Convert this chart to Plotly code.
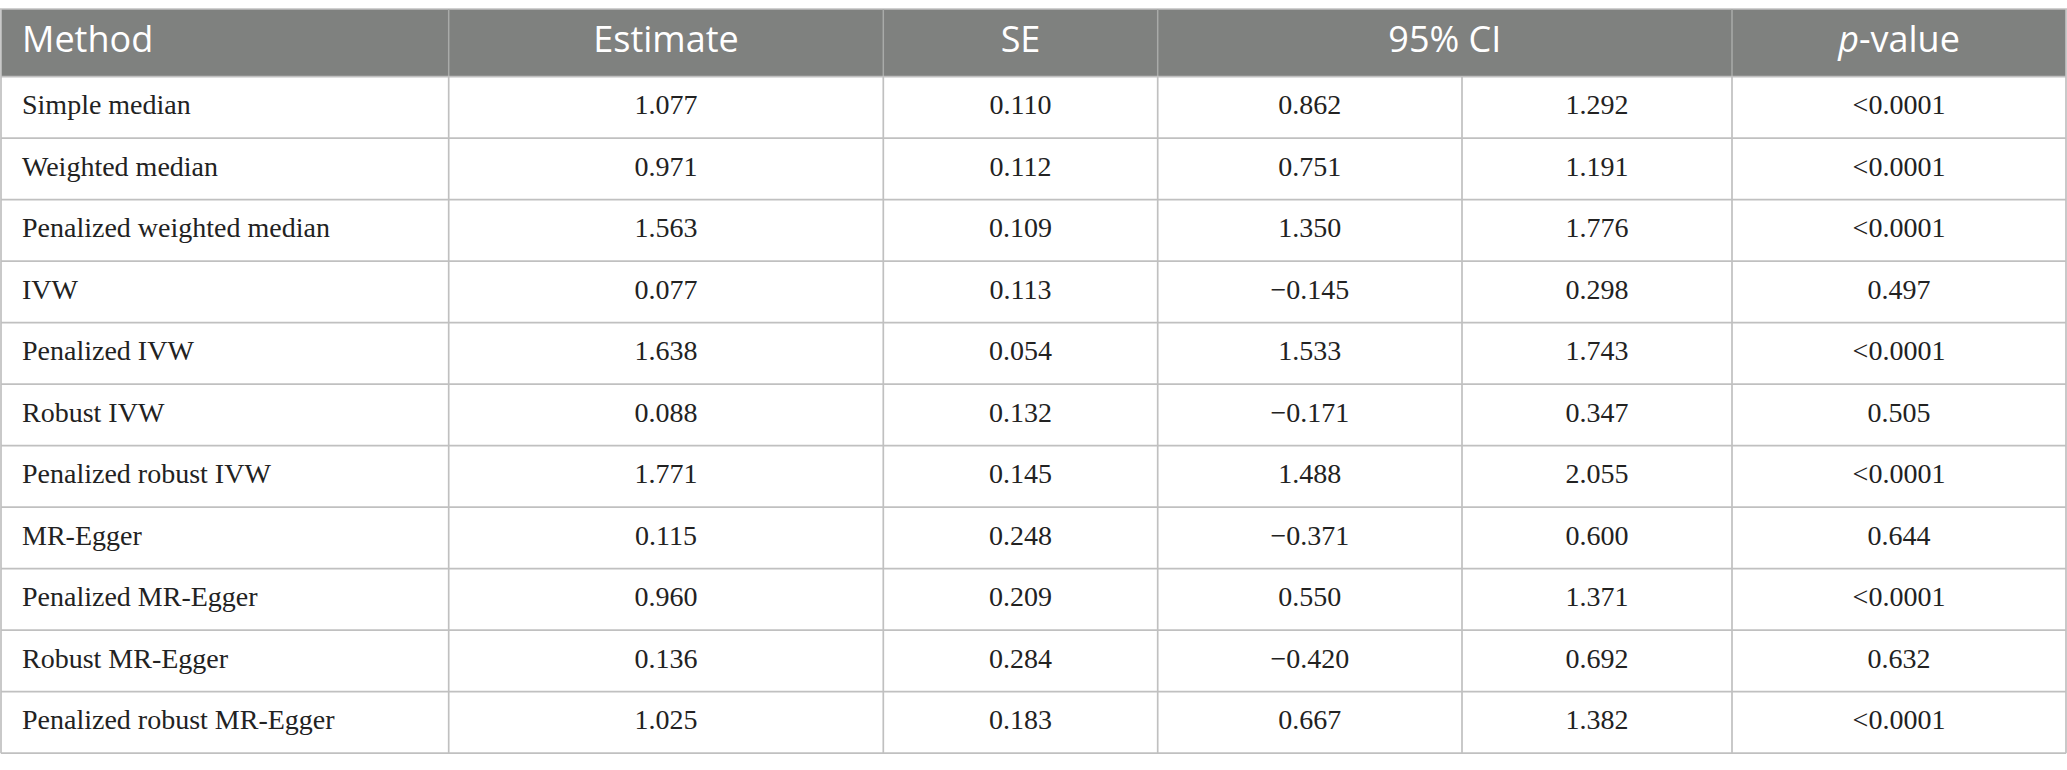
import plotly.graph_objects as go

# table values
methods = ["Simple median", "Weighted median", "Penalized weighted median", "IVW",
           "Penalized IVW", "Robust IVW", "Penalized robust IVW", "MR-Egger",
           "Penalized MR-Egger", "Robust MR-Egger", "Penalized robust MR-Egger"]
estimate = ["1.077", "0.971", "1.563", "0.077", "1.638", "0.088", "1.771", "0.115", "0.960", "0.136", "1.025"]
se = ["0.110", "0.112", "0.109", "0.113", "0.054", "0.132", "0.145", "0.248", "0.209", "0.284", "0.183"]
ci_low = ["0.862", "0.751", "1.350", "\u22120.145", "1.533", "\u22120.171", "1.488", "\u22120.371", "0.550", "\u22120.420", "0.667"]
ci_high = ["1.292", "1.191", "1.776", "0.298", "1.743", "0.347", "2.055", "0.600", "1.371", "0.692", "1.382"]
p_value = ["<0.0001", "<0.0001", "<0.0001", "0.497", "<0.0001", "0.505", "<0.0001", "0.644", "<0.0001", "0.632", "<0.0001"]

header_labels = ["Method", "Estimate", "SE", "95% CI", "<i>p</i>-value"]

# layout in pixels (axes are set up 1 unit = 1 px)
W, H = 2067, 770
col_edges = [1, 448.7, 883.3, 1157.7, 1462, 1732, 2066]
head_edges = [1, 448.7, 883.3, 1157.7, 1732, 2066]   # CI header spans two columns
top = 9
head_bot = 76.7
row_h = 61.5
pad_left = 22

grey = "#7f817f"
head_line = "#a9aba9"
line_col = "#c0c0c0"
body_font = dict(family="Liberation Serif", size=28, color="#222222")
head_font = dict(family="Open Sans", size=36, color="white")

n = len(methods)
row_y = [head_bot + (i + 0.5) * row_h for i in range(n)]
bottom = head_bot + n * row_h

fig = go.Figure()

# header text
head_x = [pad_left] + [(head_edges[i] + head_edges[i + 1]) / 2 for i in range(1, len(head_edges) - 1)]
fig.add_trace(go.Scatter(
    x=head_x[:1], y=[(top + head_bot) / 2], text=header_labels[:1],
    mode="text", textposition="middle right", textfont=head_font,
    hoverinfo="skip", cliponaxis=False,
))
fig.add_trace(go.Scatter(
    x=head_x[1:], y=[(top + head_bot) / 2] * (len(head_x) - 1), text=header_labels[1:],
    mode="text", textposition="middle center", textfont=head_font,
    hoverinfo="skip", cliponaxis=False,
))

# body text
fig.add_trace(go.Scatter(
    x=[pad_left] * n, y=row_y, text=methods,
    mode="text", textposition="middle right", textfont=body_font,
    hoverinfo="skip", cliponaxis=False,
))
for j, col in enumerate([estimate, se, ci_low, ci_high, p_value], start=1):
    cx = (col_edges[j] + col_edges[j + 1]) / 2
    fig.add_trace(go.Scatter(
        x=[cx] * n, y=row_y, text=col,
        mode="text", textposition="middle center", textfont=body_font,
        hoverinfo="skip", cliponaxis=False,
    ))

# header fill and grid lines
shapes = [dict(type="rect", x0=col_edges[0], x1=col_edges[-1], y0=top, y1=head_bot,
               fillcolor=grey, line_width=0, layer="below")]
shapes.append(dict(type="line", x0=0, x1=W, y0=top, y1=top,
                   line=dict(color=line_col, width=1.5), layer="below"))
for xe in head_edges[1:-1]:
    shapes.append(dict(type="line", x0=xe, x1=xe, y0=top, y1=head_bot,
                       line=dict(color=head_line, width=1.5), layer="below"))
for xe in col_edges:
    outer = xe in (col_edges[0], col_edges[-1])
    shapes.append(dict(type="line", x0=xe, x1=xe, y0=top if outer else head_bot,
                       y1=bottom, line=dict(color=line_col, width=1.7), layer="below"))
for i in range(n + 1):
    yy = head_bot + i * row_h
    shapes.append(dict(type="line", x0=col_edges[0], x1=col_edges[-1], y0=yy, y1=yy,
                       line=dict(color=line_col, width=1.7), layer="below"))

fig.update_layout(
    width=W,
    height=H,
    margin=dict(l=0, r=0, t=0, b=0),
    paper_bgcolor="white",
    plot_bgcolor="white",
    showlegend=False,
    shapes=shapes,
    xaxis=dict(range=[0, W], visible=False, fixedrange=True),
    yaxis=dict(range=[H, 0], visible=False, fixedrange=True),
)

# drop the browser's default 8px body margin so the figure sits at the page corner
fig.write_html("out.html", config={"displayModeBar": False},
               post_script="document.body.style.margin='0';")
